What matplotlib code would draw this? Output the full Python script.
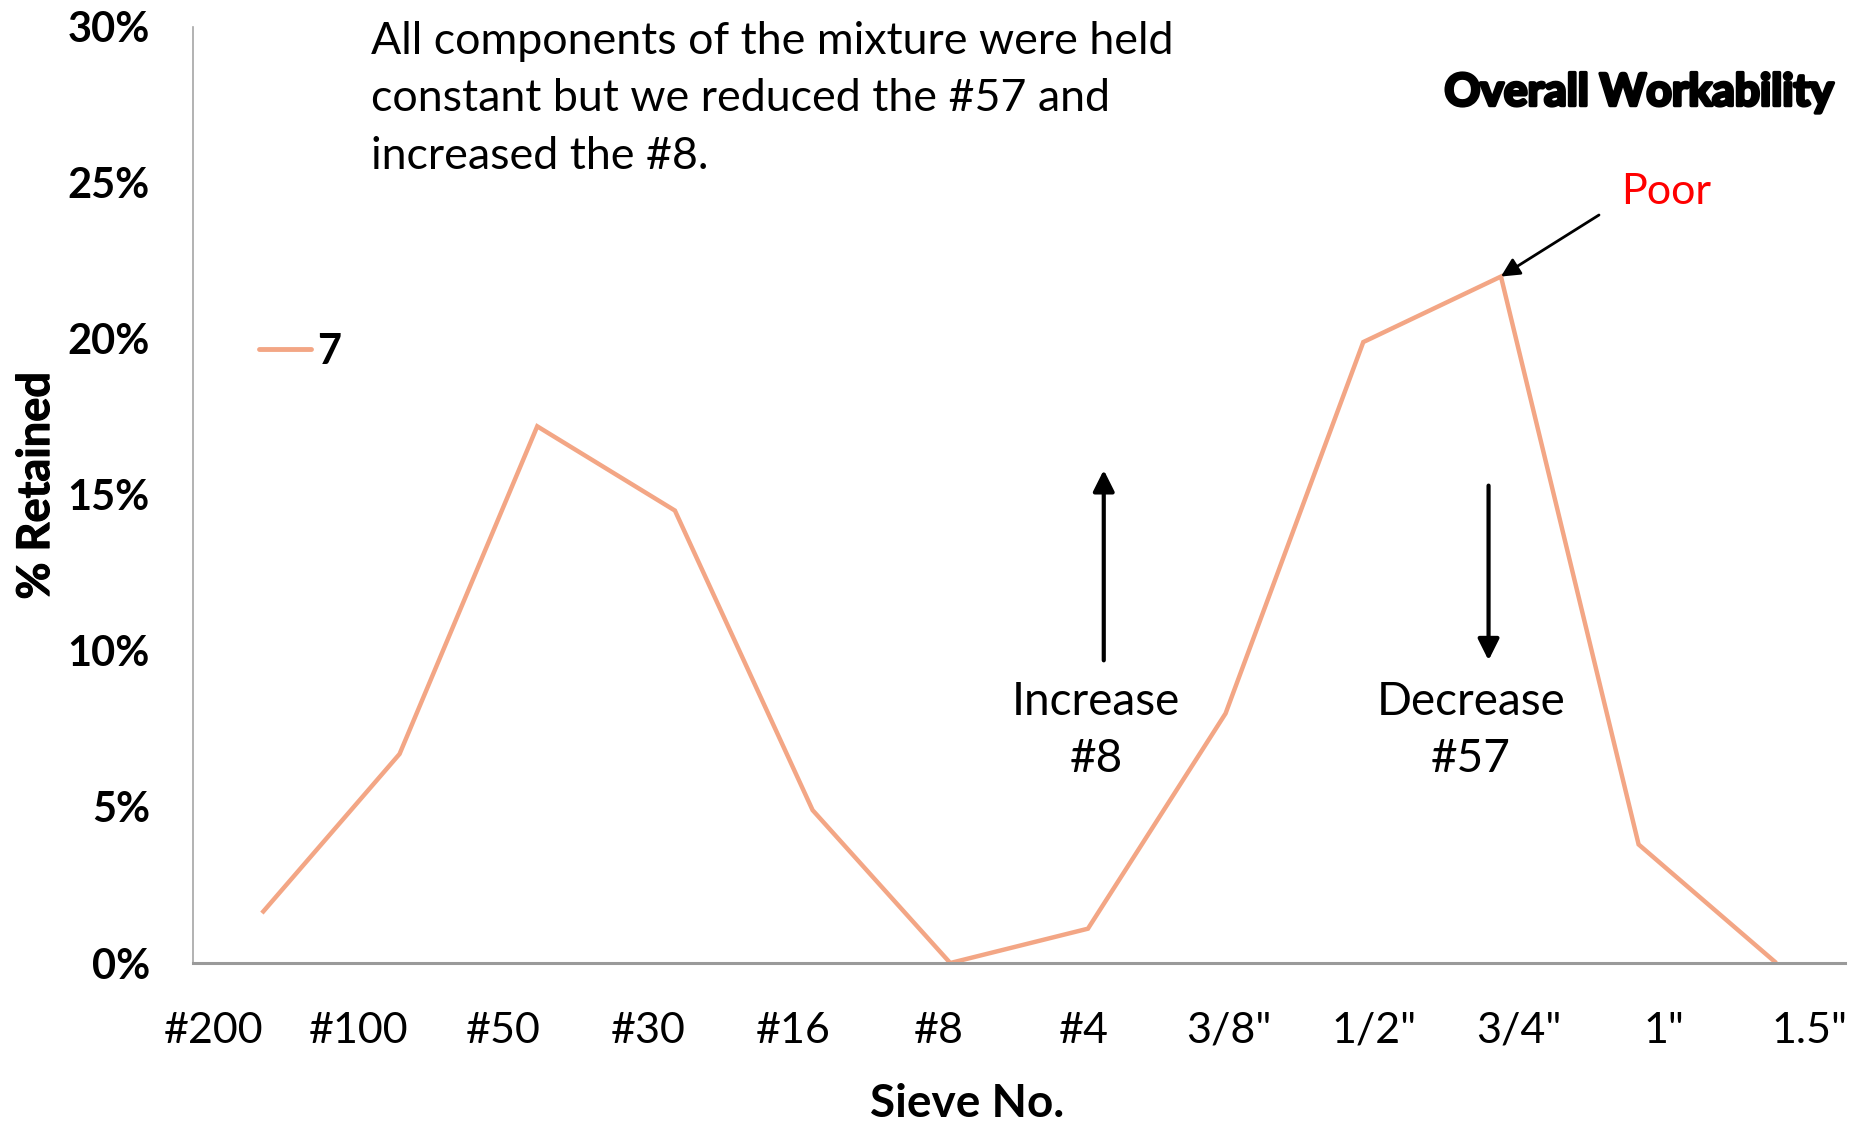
import matplotlib
matplotlib.use("Agg")
import matplotlib.pyplot as plt
import matplotlib.patheffects as pe
import numpy as np

plt.rcParams['font.family'] = ['Lato', 'DejaVu Sans']

# Sieve sizes and percent retained on each sieve (mix 7)
sieves = ['#200', '#100', '#50', '#30', '#16', '#8', '#4',
          '3/8"', '1/2"', '3/4"', '1"', '1.5"']
retained_7 = [1.6, 6.7, 17.2, 14.5, 4.9, 0.0, 1.1, 8.0, 19.9, 22.0, 3.8, 0.0]
yticks = [0, 5, 10, 15, 20, 25, 30]

line_color = '#F3A685'
axis_gray = '#A6A6A6'

fig = plt.figure(figsize=(18.6, 11.22), dpi=100)
ax = fig.add_axes([0.1038, 0.1417, 0.8882, 0.8343])

x = np.arange(len(sieves))
ax.plot(x, retained_7, color=line_color, lw=3.2, solid_joinstyle='miter',
        solid_capstyle='butt', label='7')

ax.set_xlim(-0.5, len(sieves) - 0.5)
ax.set_ylim(0, 30)
ax.set_yticks(yticks)
ax.set_yticklabels([f'{v}%' for v in yticks], fontsize=30, fontweight='bold')
ax.tick_params(axis='y', length=0, pad=31)
ax.set_xticks([])

for s in ('top', 'right'):
    ax.spines[s].set_visible(False)
ax.spines['left'].set_color(axis_gray)
ax.spines['left'].set_linewidth(1.2)
ax.spines['bottom'].set_color('#9A9A9A')
ax.spines['bottom'].set_linewidth(2.2)

# Category labels on their own axis
ax2 = ax.twiny()
ax2.set_xlim(-0.141, 11.249)
ax2.set_xticks(x)
ax2.set_xticklabels(sieves, fontsize=31)
ax2.xaxis.set_ticks_position('bottom')
ax2.xaxis.set_label_position('bottom')
ax2.tick_params(axis='x', length=0, pad=35)
for s in ax2.spines.values():
    s.set_visible(False)

# Legend
leg = ax.legend(loc='center left', bbox_to_anchor=(0.040, 0.653), frameon=False,
                handlelength=1.25, handletextpad=0.15, borderpad=0, borderaxespad=0,
                prop={'weight': 'bold', 'size': 30})
for h in leg.get_lines():
    h.set_solid_capstyle('round')
    h.set_linewidth(3.5)

# Axis titles
fig.text(0.0194, 0.567, '% Retained', rotation=90, ha='center', va='center',
         fontsize=32.5, fontweight='bold',
         path_effects=[pe.withStroke(linewidth=0.8, foreground='black')])
fig.text(0.520, 0.016, 'Sieve No.', ha='center', va='center',
         fontsize=33, fontweight='bold')

# Description
fig.text(0.1995, 0.9815,
         'All components of the mixture were held\n'
         'constant but we reduced the #57 and\n'
         'increased the #8.',
         ha='left', va='top', fontsize=32.2, linespacing=1.5)

fig.text(0.8813, 0.9175, 'Overall Workability', ha='center', va='center',
         fontsize=32, fontweight='bold',
         path_effects=[pe.withStroke(linewidth=2.4, foreground='black')])

fig.text(0.8955, 0.829, 'Poor', ha='center', va='center', fontsize=31, color='red')

# Arrow from the rating to the 3/4" peak
ax.annotate('', xy=(9, retained_7[9]), xycoords='data',
            xytext=(1599 / 1860, 1 - 215 / 1122), textcoords='figure fraction',
            arrowprops=dict(arrowstyle='-|>', color='black', lw=2,
                            mutation_scale=28, shrinkA=0, shrinkB=0))

# Increase #8 / Decrease #57
ax.annotate('', xy=(6.115, 15.8), xytext=(6.115, 9.7),
            arrowprops=dict(arrowstyle='-|>', color='black', lw=3,
                            mutation_scale=32, shrinkA=0, shrinkB=0))
ax.text(6.06, 7.45, 'Increase\n#8', ha='center', va='center', fontsize=33,
        linespacing=1.45)

ax.annotate('', xy=(8.91, 9.7), xytext=(8.91, 15.3),
            arrowprops=dict(arrowstyle='-|>', color='black', lw=3,
                            mutation_scale=32, shrinkA=0, shrinkB=0))
ax.text(8.78, 7.45, 'Decrease\n#57', ha='center', va='center', fontsize=33,
        linespacing=1.45)

fig.savefig('out.png', dpi=100)
